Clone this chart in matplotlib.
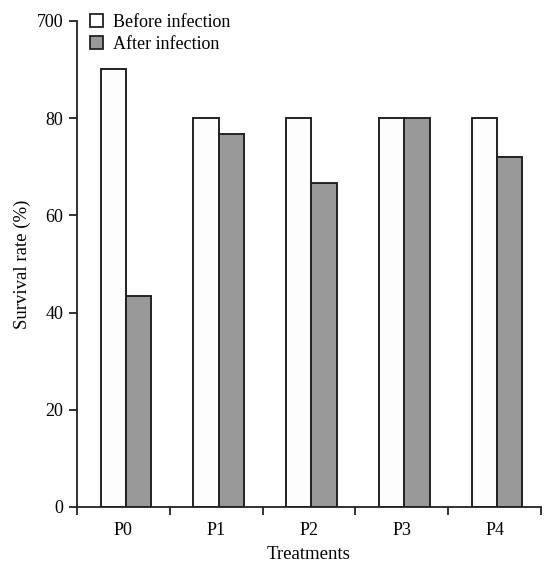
import numpy as np
import matplotlib
matplotlib.use('Agg')
import matplotlib.pyplot as plt
from matplotlib.patches import Patch

plt.rcParams['font.family'] = ['Liberation Serif', 'DejaVu Serif']

# data
treatments = ['P0', 'P1', 'P2', 'P3', 'P4']
before = [90, 80, 80, 80, 80]
after = [43.3, 76.7, 66.7, 80, 72]
ytick_vals = [0, 20, 40, 60, 80, 100]
ytick_labels = ['0', '20', '40', '60', '80', '700']

edge = '#222222'
grey = '#999999'

fig = plt.figure(figsize=(5.44, 5.63), dpi=100)
ax = fig.add_axes([0.1415, 0.0995, 0.853, 0.8635])

x = np.arange(len(treatments))
w = 0.273
ax.bar(x - 0.5 + 0.254, before, width=w, align='edge', color='#fdfdfd',
       edgecolor=edge, linewidth=1.4, zorder=2)
ax.bar(x - 0.5 + 0.527, after, width=w, align='edge', color=grey,
       edgecolor=edge, linewidth=1.4, zorder=2)

ax.set_xlim(-0.5, len(treatments) - 0.5)
ax.set_ylim(0, 100)

# ticks at category boundaries, labels at centres
ax.set_xticks(np.arange(len(treatments) + 1) - 0.5)
ax.set_xticklabels([])
ax.set_xticks(x, minor=True)
ax.set_xticklabels(treatments, minor=True, fontsize=13)
ax.tick_params(axis='x', which='minor', length=0, pad=11)
ax.tick_params(axis='x', which='major', direction='out', length=6, width=1.3, color=edge)

ax.set_yticks(ytick_vals)
ax.set_yticklabels(ytick_labels, fontsize=13)
ax.tick_params(axis='y', direction='out', length=6, width=1.3, color=edge, pad=4)

for s in ['top', 'right']:
    ax.spines[s].set_visible(False)
for s in ['left', 'bottom']:
    ax.spines[s].set_linewidth(1.3)
    ax.spines[s].set_color(edge)

ax.set_xlabel('Treatments', fontsize=13.5, labelpad=5)
ax.set_ylabel('Survival rate (%)', fontsize=13.5, labelpad=4)

handles = [Patch(facecolor='#fdfdfd', edgecolor=edge, linewidth=1.3),
           Patch(facecolor=grey, edgecolor=edge, linewidth=1.3)]
ax.legend(handles, ['Before infection', 'After infection'], loc='upper left',
          bbox_to_anchor=(0.0, 1.04), frameon=False, fontsize=13,
          handlelength=0.75, handleheight=0.75, handletextpad=0.55,
          labelspacing=0.25, borderaxespad=0.3)

fig.savefig('out.png', dpi=100)
